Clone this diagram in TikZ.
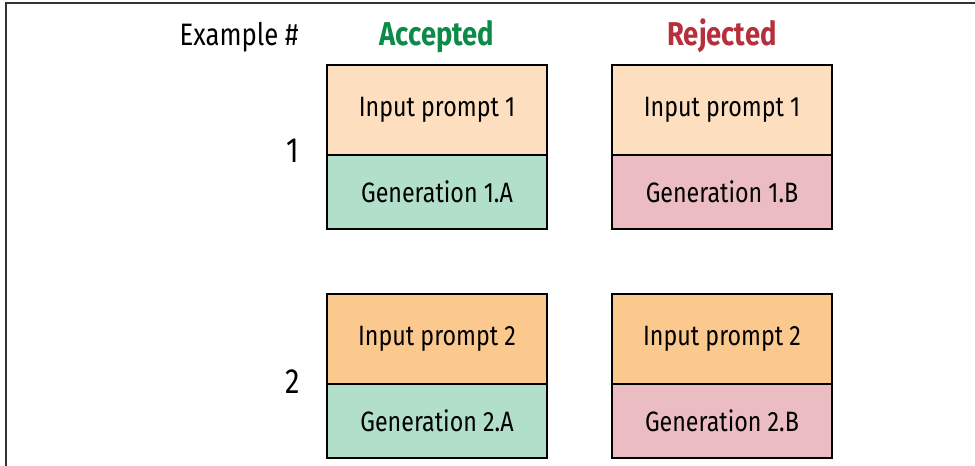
\documentclass[tikz,border=0pt]{standalone}
\usepackage{fontspec}
\setmainfont{Fira Sans}[FakeStretch=0.83]
\usetikzlibrary{positioning}
\definecolor{promptlight}{HTML}{FDDFBF}
\definecolor{promptdark}{HTML}{FBC98E}
\definecolor{genaccept}{HTML}{B1DFCA}
\definecolor{genreject}{HTML}{EBBDC2}
\definecolor{acceptgreen}{HTML}{0B8A48}
\definecolor{rejectred}{HTML}{B5303A}
\begin{document}
\begin{tikzpicture}[
        x                       = 1pt,
        y                       = -1pt,
        node distance           = 0pt,
        cell/.style             = {draw, line width=2pt, outer sep=0pt, inner sep=0pt, minimum width=220pt, font=\fontsize{28}{32}\selectfont},
        prompt/.style           = {cell, minimum height=90pt},
        gen/.style              = {cell, minimum height=74pt},
        head/.style             = {anchor=base, font=\fontsize{33}{38}\selectfont\bfseries},
        num/.style              = {anchor=base east, font=\fontsize{35}{40}\selectfont},
        %sloped
      ]
        \useasboundingbox (0,0) rectangle (975,466);
        % frame
        \draw[line width=2pt, black!80] (975,3) -- (6,3) -- (6,466);

        % example 1
        \node[prompt, fill=promptlight, anchor=north west] (p1a) at (327,65) {Input prompt 1};
        \node[gen, fill=genaccept, below=of p1a] (g1a) {Generation 1.A};
        \node[prompt, fill=promptlight, anchor=north west] (p1b) at (612,65) {Input prompt 1};
        \node[gen, fill=genreject, below=of p1b] (g1b) {Generation 1.B};

        % example 2
        \node[prompt, fill=promptdark, anchor=north west] (p2a) at (327,294) {Input prompt 2};
        \node[gen, fill=genaccept, below=of p2a] (g2a) {Generation 2.A};
        \node[prompt, fill=promptdark, anchor=north west] (p2b) at (612,294) {Input prompt 2};
        \node[gen, fill=genreject, below=of p2b] (g2b) {Generation 2.B};

        % headings
        \node[head, font=\fontsize{31}{36}\selectfont, anchor=base east] (hex) at (302,45) {Example \#};
        \node[head, text=acceptgreen] (hacc) at (p1a.north |- 0,45) {Accepted};
        \node[head, text=rejectred] (hrej) at (p1b.north |- 0,45) {Rejected};
        \node[num] (n1) at (303,162) {1};
        \node[num] (n2) at (303,393) {2};
    \end{tikzpicture}
\end{document}
